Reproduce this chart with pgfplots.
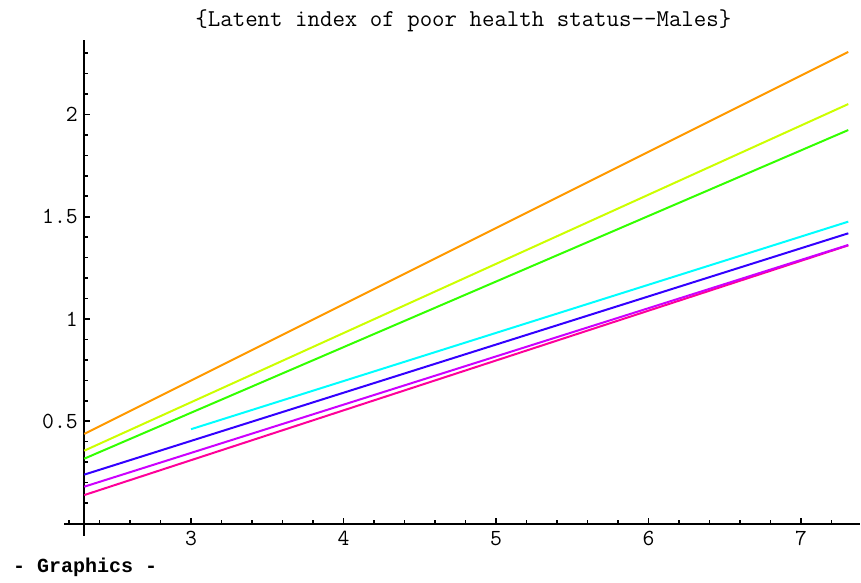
\documentclass[border=0pt]{standalone}
\usepackage{fontspec}
\newfontfamily\gfxfont{Liberation Mono}
\usepackage{pgfplots}
\pgfplotsset{compat=1.18}
\definecolor{cOrange}{HTML}{FF9900}
\definecolor{cYellow}{HTML}{CCFF00}
\definecolor{cGreen}{HTML}{33FF00}
\definecolor{cCyan}{HTML}{00FFFF}
\definecolor{cBlue}{HTML}{3300FF}
\definecolor{cPurple}{HTML}{CC00FF}
\definecolor{cPink}{HTML}{FF0099}
\begin{document}
\begin{tikzpicture}
\begin{axis}[
  x=152.5bp, y=204.5bp,
  xmin=2.3, xmax=7.39, ymin=0, ymax=2.363,
  axis lines=left,
  axis line style={-, line width=2bp, black},
  clip=false,
  xtick={3,4,5,6,7},
  ytick={0.5,1,1.5,2},
  yticklabels={0.5,1,1.5,2},
  minor xtick={2.4,2.6,2.8,3.2,3.4,3.6,3.8,4.2,4.4,4.6,4.8,5.2,5.4,5.6,5.8,6.2,6.4,6.6,6.8,7.2},
  minor ytick={0.1,0.2,0.3,0.4,0.6,0.7,0.8,0.9,1.1,1.2,1.3,1.4,1.6,1.7,1.8,1.9,2.1,2.2,2.3},
  tick align=inside,
  major tick length=6bp, minor tick length=4bp,
  every tick/.style={black, line width=1.6bp},
  tick label style={font=\ttfamily\fontsize{23bp}{27bp}\selectfont},
  /pgf/number format/assume math mode=true,
  xticklabel style={yshift=-4bp},
  yticklabel style={xshift=-3bp},
]
\addplot[cOrange, line width=2bp] coordinates {(2.3,0.438) (7.31,2.306)};
\addplot[cYellow, line width=2bp] coordinates {(2.3,0.356) (7.31,2.051)};
\addplot[cGreen, line width=2bp] coordinates {(2.3,0.317) (7.31,1.924)};
\addplot[cCyan, line width=2bp] coordinates {(3.0,0.461) (7.31,1.476)};
\addplot[cBlue, line width=2bp] coordinates {(2.3,0.239) (7.31,1.419)};
\addplot[cPink, line width=2bp] coordinates {(2.3,0.139) (7.31,1.360)};
\addplot[cPurple, line width=2bp] coordinates {(2.3,0.180) (7.31,1.362)};
\coordinate (O) at (axis cs:2.3,0);
\node[anchor=base, inner sep=0pt, font=\ttfamily\fontsize{24.2bp}{28bp}\selectfont] at (axis cs:4.786,2.428) {\{Latent index of poor health status-\kern0pt-Males\}};
\node[anchor=base west, font=\gfxfont\bfseries\fontsize{20bp}{24bp}\selectfont, inner sep=0pt] at (axis cs:1.8325,-0.242) {- Graphics -};
\coordinate (bl) at (axis cs:1.7475,-0.2909);
\coordinate (tr) at (axis cs:7.3934,2.5599);
\end{axis}
\draw[line width=2bp] (O) -- ++(-20bp,0);
\draw[line width=2bp] (O) -- ++(0,-12bp);
\draw[line width=1.6bp] ([xshift=-15.25bp]O) -- ++(0,4bp);
\pgfresetboundingbox
\useasboundingbox (bl) rectangle (tr);
\end{tikzpicture}
\end{document}
